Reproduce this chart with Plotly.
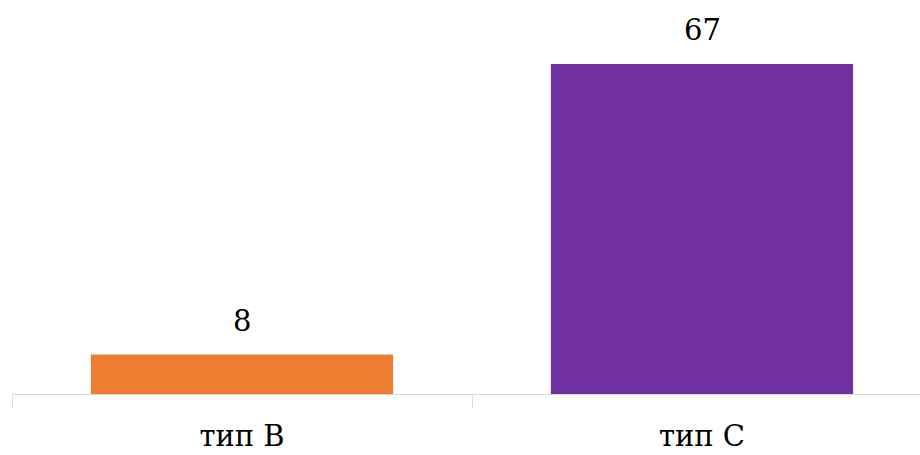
import plotly.graph_objects as go

categories = ["тип B", "тип C"]
values = [8, 67]
colors = ["#ED7D31", "#7030A0"]

FONT = "DejaVu Serif"

fig = go.Figure(go.Bar(
    x=categories, y=values,
    marker=dict(color=colors, line=dict(width=0)),
    width=0.657,
    hoverinfo="skip",
))

for c, v in zip(categories, values):
    fig.add_annotation(x=c, y=v, text=str(v), showarrow=False,
                       yanchor="bottom", yshift=15,
                       font=dict(family=FONT, size=29, color="#000000"))

fig.update_layout(
    width=920, height=455,
    font=dict(family=FONT),
    margin=dict(l=12, r=0, t=0, b=61, autoexpand=False),
    paper_bgcolor="white", plot_bgcolor="white",
    showlegend=False,
    xaxis=dict(
        type="category",
        automargin=False,
        range=[-0.5, -0.5 + 908 / 460],
        showline=True, linecolor="#D9D9D9", linewidth=1,
        ticks="outside", tickson="boundaries", ticklen=13, tickcolor="#D9D9D9",
        tickfont=dict(family=FONT, size=29, color="#000000"),
        ticklabelstandoff=16,
        showgrid=False, zeroline=False,
    ),
    yaxis=dict(range=[0, 80], visible=False, showgrid=False, zeroline=False),
)

fig.write_html("out.html")
